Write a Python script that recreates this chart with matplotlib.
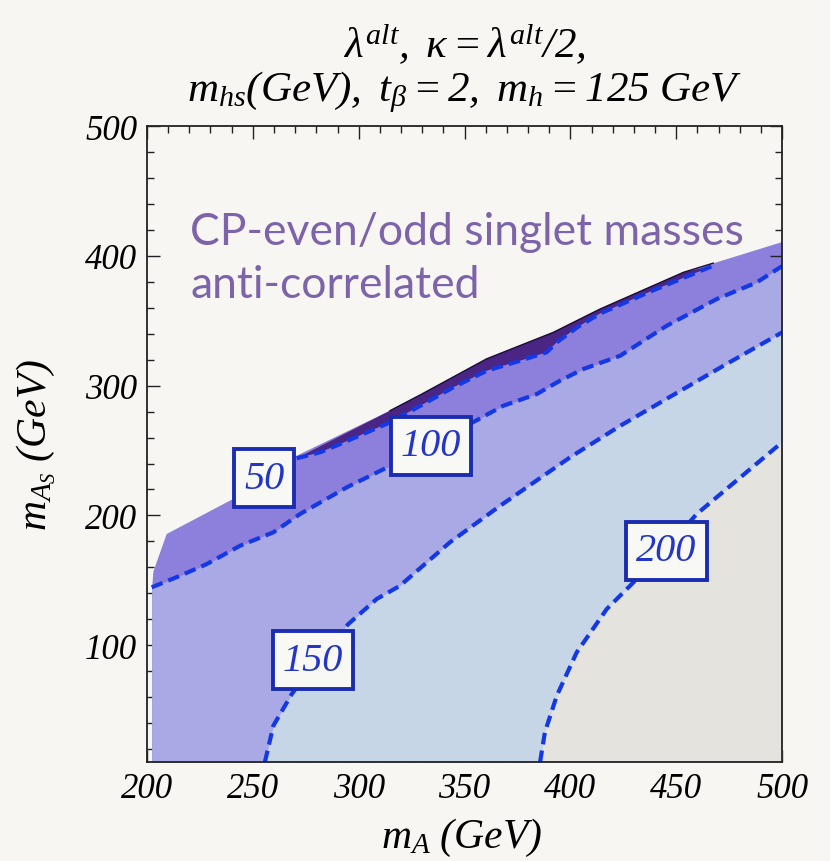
import matplotlib.pyplot as plt
from matplotlib.ticker import MultipleLocator

plt.rcParams['font.family'] = 'Liberation Serif'
plt.rcParams['font.style'] = 'italic'
plt.rcParams['mathtext.fontset'] = 'custom'
plt.rcParams['mathtext.it'] = 'Liberation Serif:italic'
plt.rcParams['mathtext.rm'] = 'Liberation Serif'
plt.rcParams['mathtext.bf'] = 'Liberation Serif:bold'

BG = '#f7f6f2'

# upper edge of the allowed region (m_A, m_AS)
edge_x = [202.4, 202.4, 203.0, 204.6, 209.3, 240.6, 270.7, 314.8, 329.0,
          360.5, 392.0, 414.0, 453.4, 469.1, 500.0]
edge_y = [10.0, 143.3, 156.4, 164.1, 185.7, 212.6, 246.0, 280.7, 292.8,
          320.7, 341.1, 359.0, 387.3, 395.0, 410.6]

# m_hs contours (GeV)
c50_x = [270.7, 281.7, 291.2, 314.8, 329.0, 344.7, 360.5, 376.2, 388.8,
         393.6, 403.6, 414.0, 437.6, 467.5]
c50_y = [244.0, 248.6, 255.0, 271.7, 284.4, 298.7, 311.5, 319.2, 325.7,
         333.4, 345.3, 355.5, 372.4, 392.4]

c100_x = [202.2, 215.6, 228.2, 243.9, 259.7, 272.3, 294.3, 314.8, 353.9,
          368.3, 384.1, 395.1, 406.1, 423.5, 445.5, 469.1, 488.0, 500.0]
c100_y = [144.6, 153.5, 162.5, 176.6, 187.0, 201.1, 221.6, 238.1, 271.7,
          284.5, 293.5, 303.8, 312.8, 323.0, 346.1, 366.7, 379.5, 392.1]

c150_x = [255.7, 259.7, 268.4, 281.7, 295.1, 308.5, 319.5, 343.1, 366.8,
          399.8, 423.5, 472.3, 500.0]
c150_y = [10.0, 38.0, 62.4, 91.7, 116.3, 135.6, 145.8, 179.3, 207.4,
          244.7, 269.0, 315.3, 341.0]

c200_x = [385.7, 388.0, 393.6, 403.0, 417.2, 429.0, 445.0, 459.7, 500.0]
c200_y = [10.0, 33.1, 61.1, 94.5, 127.9, 147.1, 174.0, 201.1, 256.3]

label_text = ['50', '100', '150', '200']
label_x = [255.3, 334.2, 278.4, 445.4]
label_y = [228.8, 253.5, 88.6, 172.6]

shade = {'0-50': '#4a2584', '50-100': '#8c80dc', '100-150': '#a9a9e5',
         '150-200': '#c7d6e7', '200+': '#e4e3dd'}
line_blue = '#1438e6'

fig = plt.figure(figsize=(8.3, 8.62), dpi=100, facecolor=BG)
ax = fig.add_axes([0.1771, 0.1148, 0.7651, 0.7378])
ax.set_facecolor(BG)

# filled bands, lowest m_hs first
ax.fill(edge_x + [500.0], edge_y + [10.0], color=shade['50-100'], lw=0, zorder=1)
seg = [(x, y) for x, y in zip(edge_x, edge_y) if c50_x[0] < x < c50_x[-1]]
dark_x = c50_x + [p[0] for p in seg[::-1]]
dark_y = c50_y + [p[1] for p in seg[::-1]]
ax.fill(dark_x, dark_y, color=shade['0-50'], lw=0, zorder=1.5)
ax.plot([p[0] for p in seg] + [c50_x[-1]], [p[1] for p in seg] + [c50_y[-1] + 2],
        color='#1a0c3c', lw=1.0, zorder=1.6)
ax.fill_between(c100_x, 10, c100_y, color=shade['100-150'], lw=0, zorder=2)
ax.fill_between(c150_x, 10, c150_y, color=shade['150-200'], lw=0, zorder=3)
ax.fill_between(c200_x, 10, c200_y, color=shade['200+'], lw=0, zorder=4)

for cx, cy in [(c50_x, c50_y), (c100_x, c100_y), (c150_x, c150_y), (c200_x, c200_y)]:
    ax.plot(cx, cy, color=line_blue, lw=3.0, dashes=(2.8, 1.5), zorder=5,
            dash_capstyle='butt')

for t, x, y in zip(label_text, label_x, label_y):
    ax.text(x, y, t, ha='center', va='center', fontsize=29, color='#2436c8',
            zorder=6,
            bbox=dict(boxstyle='square,pad=0.25', fc='#f8f8f5', ec='#1a2db0', lw=2.8))

ax.set_xlim(200, 500)
ax.set_ylim(10, 500)
ax.xaxis.set_major_locator(MultipleLocator(50))
ax.xaxis.set_minor_locator(MultipleLocator(10))
ax.yaxis.set_major_locator(MultipleLocator(100))
ax.yaxis.set_minor_locator(MultipleLocator(20))
ax.tick_params(which='both', direction='in', top=True, right=True,
               color='#222222', width=1.0)
ax.tick_params(which='major', length=9, labelsize=25, pad=7)
ax.tick_params(which='minor', length=5)
for s in ax.spines.values():
    s.set_color('#222222')
    s.set_linewidth(1.3)
    s.set_zorder(7)

ax.set_xlabel(r'$m_A\ (\mathrm{GeV})$', fontsize=30)
ax.set_ylabel(r'$m_{A_S}\ (GeV)$', fontsize=30)
ax.xaxis.set_label_coords(0.495, -0.085)
ax.yaxis.set_label_coords(-0.14, 0.5)

fig.text(0.5596, 1 - 45 / 862, r'$\lambda^{alt},\ \kappa = \lambda^{alt}/\mathit{2},$',
         ha='center', va='center', fontsize=31)
fig.text(0.5596, 1 - 92 / 862,
         r'$m_{hs}(\mathrm{GeV}),\ t_\beta = \mathit{2},\ m_h = \mathit{125}\ GeV$',
         ha='center', va='center', fontsize=31)

note_kw = dict(family='Lato', style='normal', fontsize=32, color='#7c63aa')
fig.text(190 / 830, 1 - 245 / 862, 'CP-even/odd singlet masses', va='baseline', **note_kw)
fig.text(190 / 830, 1 - 298 / 862, 'anti-correlated', va='baseline', **note_kw)

fig.savefig('out.png', dpi=100, facecolor=BG)
